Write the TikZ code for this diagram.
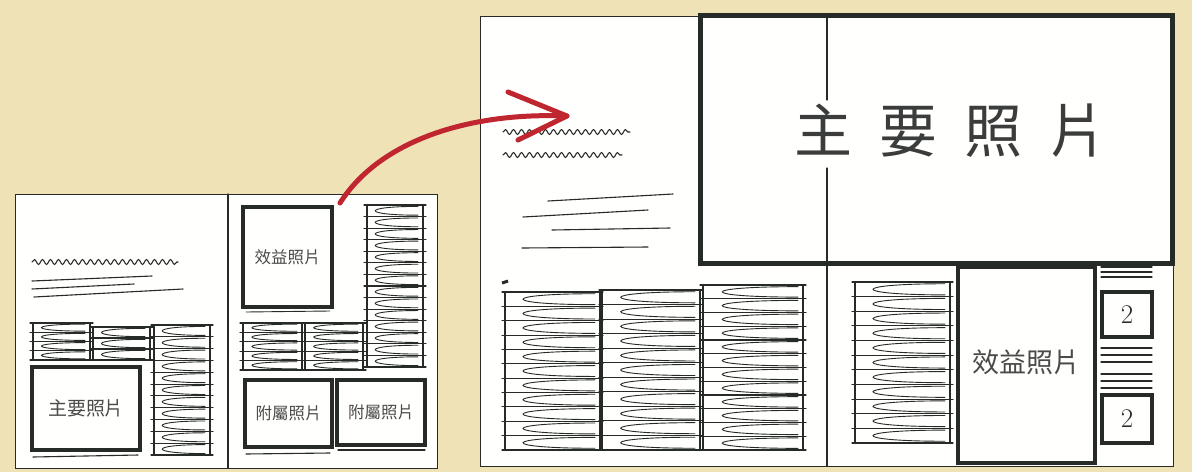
\documentclass[tikz,border=0pt]{standalone}
\usepackage{fontspec}
\newfontfamily\cjk{Noto Sans CJK TC}
\usetikzlibrary{decorations.pathmorphing}
\definecolor{paper}{HTML}{EFE2B6}
\definecolor{page}{HTML}{FFFFFD}
\definecolor{ink}{HTML}{262B28}
\definecolor{pen}{HTML}{C0262F}
\definecolor{labelgrey}{HTML}{4A4A4A}
\definecolor{bigtext}{HTML}{3A3D3B}
\tikzset{
  inkline/.style={draw=ink, line width=1.1pt, line cap=round},
  thinink/.style={draw=ink, line width=0.9pt, line cap=round},
  pageframe/.style={draw=ink, fill=page, line width=1pt},
  photobox/.style={draw=ink, line width=3.6pt, fill=page, inner sep=0pt, font=\cjk, text=labelgrey},
  smallbox/.style={draw=ink, line width=4pt, fill=page, inner sep=0pt, text=ink},
  wave/.style={draw=ink, line width=1.1pt, line cap=round, decorate, decoration={snake, segment length=8pt, amplitude=2.4pt}},
  redpen/.style={draw=pen, line width=5pt, line cap=round, line join=round},
}
% scribbled text column: x1 y1 x2 y2 n
\newcommand\scrib[5]{%
  \draw[inkline] (#1,#2)--(#1,#4) (#3,#2)--(#3,#4);
  \pgfmathsetmacro\sstep{(#4-#2)/#5}%
  \foreach \i in {0,...,#5}{\draw[inkline] ({#1-3},{#2+\i*\sstep}) -- ({#3+3},{#2+\i*\sstep});}
  \pgfmathtruncatemacro\scribn{#5-1}%
  \foreach \i in {0,...,\scribn}{\draw[thinink] ({#3-5},{#2+(\i+0.12)*\sstep}) .. controls ({#1-6},{#2+(\i+0.12)*\sstep}) and ({#1-6},{#2+(\i+0.88)*\sstep}) .. ({#3-5},{#2+(\i+0.88)*\sstep});}
}
\begin{document}
\begin{tikzpicture}[x=1pt,y=-1pt]
\fill[paper] (0,0) rectangle (1192,472);
\useasboundingbox (0,0) rectangle (1192,472);

% ---------- small spread ----------
\draw[pageframe] (15,194) rectangle (437,468);
\draw[inkline] (228,194) -- (228,468);
\draw[wave] (32,262) -- (178,262);
\draw[inkline] (32,281) -- (152,276);
\draw[inkline] (32,289) -- (134,284);
\draw[inkline] (34,297) -- (183,289);
\scrib{33}{323}{90}{360}{4}
\scrib{93}{327}{150}{360}{3}
\scrib{154}{325}{210}{455}{11}
\scrib{367}{205}{423}{367}{14}
\scrib{243}{323}{302}{370}{5}
\scrib{305}{323}{363}{370}{5}
\node[photobox, minimum width=108pt, minimum height=83pt, font=\cjk\fontsize{19}{19}\selectfont] (mainS) at (86,408.5) {主要照片};
\node[photobox, minimum width=89pt, minimum height=100pt, font=\cjk\fontsize{16.5}{17}\selectfont] (benefitS) at (287.5,257) {效益照片};
\node[photobox, minimum width=87pt, minimum height=67pt, font=\cjk\fontsize{16.5}{17}\selectfont] (subA) at (288.5,413.5) {附屬照片};
\node[photobox, minimum width=88pt, minimum height=65pt, font=\cjk\fontsize{16.5}{17}\selectfont] (subB) at (381,412.5) {附屬照片};
\draw[inkline] (33,457) -- (138,455);
\draw[thinink] (246,312) -- (330,311);
\draw[inkline] (246,454) -- (330,453);
\draw[inkline] (338,450) -- (425,450);

% ---------- large spread ----------
\draw[pageframe] (480,16) rectangle (1173,466);
\node[draw=ink, line width=5pt, minimum width=472pt, minimum height=248pt, inner sep=0pt] (mainL) at (936,139) {};
\draw[inkline] (827,16) -- (827,100);
\draw[inkline] (827,168) -- (827,466);
\node[font=\cjk\fontsize{58}{58}\selectfont, text=bigtext, inner sep=0pt] (mainLtext) at (951,131) {主\hspace{27pt}要\hspace{27pt}照\hspace{27pt}片};
\draw[wave] (503,132) -- (630,132);
\draw[wave] (503,155) -- (622,155);
\draw[inkline] (548,201) -- (673,194);
\draw[inkline] (523,217) -- (648,210);
\draw[inkline] (552,230) -- (670,228);
\draw[inkline] (522,248) -- (648,247);
\draw[ink, line width=3pt] (502,283) -- (508,281);
\scrib{505}{292}{600}{450}{11}
\scrib{602}{290}{700}{450}{11}
\scrib{703}{285}{803}{450}{12}
\scrib{855}{282}{950}{443}{11}
\node[photobox, line width=4.5pt, minimum width=137pt, minimum height=196pt, font=\cjk\fontsize{27}{27}\selectfont] (benefitL) at (1026.5,365) {\raisebox{8pt}{效益照片}};
\foreach \yy in {267,272,277,348,355,362,374,381,388}{\draw[inkline] (1101,\yy) -- (1152,\yy);}
\node[smallbox, minimum width=50pt, minimum height=45pt, font=\fontsize{27}{27}\selectfont] (twoA) at (1127,314.5) {2};
\node[smallbox, minimum width=50pt, minimum height=48pt, font=\fontsize{27}{27}\selectfont] (twoB) at (1127,419) {2};

% ---------- red arrow ----------
\coordinate (arrowstart) at (340,203);
\coordinate (arrowtip) at (567,116);
\coordinate (barbup) at (508,92);
\coordinate (barbdown) at (518,140);
\draw[redpen] (arrowstart) .. controls (380,140) and (470,112) .. (arrowtip);
\draw[redpen] (barbup) -- (arrowtip) -- (barbdown);
\end{tikzpicture}
\end{document}
